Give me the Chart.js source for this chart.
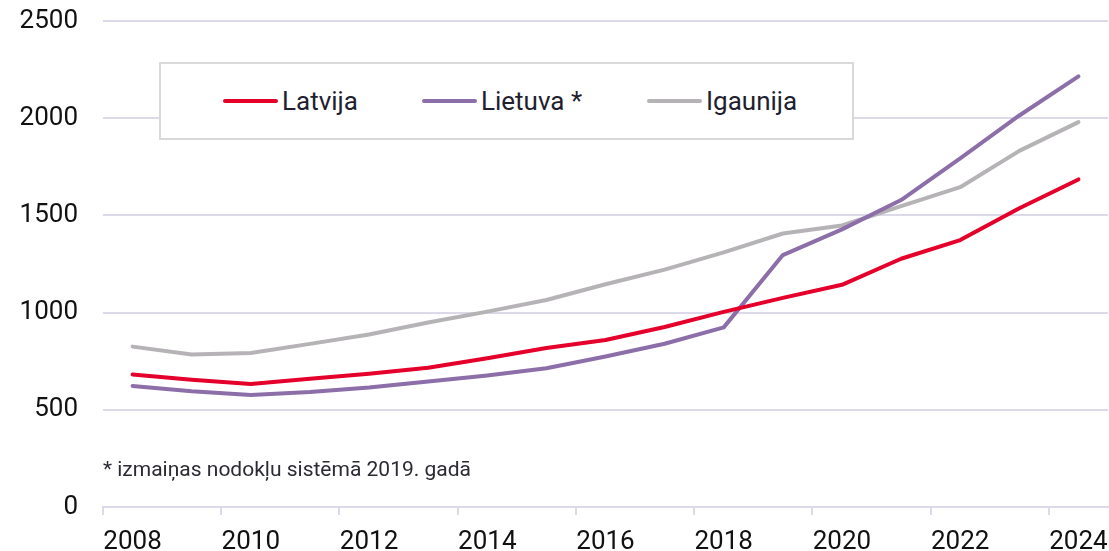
<!DOCTYPE html>
<html>
<head>
<meta charset="utf-8">
<script src="https://cdn.jsdelivr.net/npm/chart.js@4.4.1/dist/chart.umd.min.js"></script>
<style>
  body { margin: 0; background: #fff; font-family: Roboto, sans-serif; }
  #wrap { position: relative; width: 1109px; height: 551px; }
  #legend {
    position: absolute; left: 159px; top: 62px; width: 691px; height: 74px;
    border: 2px solid #d9d9d9; background: #fff;
  }
  .item { position: absolute; top: 0; height: 74px; display: flex; align-items: center;
    font-size: 26px; line-height: 26px; color: #1f1f30; white-space: nowrap; }
  .swatch { display: inline-block; width: 55px; height: 4px; border-radius: 2px; margin-right: 4px; }
  #note { position: absolute; left: 103px; top: 457px; font-size: 21px; line-height: 24px; color: #2b2b33; }
</style>
</head>
<body>
<div id="wrap">
  <canvas id="chart"></canvas>
  <div id="legend"></div>
  <div id="note">* izmaiņas nodokļu sistēmā 2019. gadā</div>
</div>
<script>
// years on the category axis
const years = ['2008', '2009', '2010', '2011', '2012', '2013', '2014', '2015', '2016',
               '2017', '2018', '2019', '2020', '2021', '2022', '2023', '2024'];

// average gross wage, EUR
const latvija = [682, 655, 633, 660, 685, 716, 765, 818, 859, 926, 1004, 1076, 1143, 1277, 1373, 1537, 1685];
const lietuva = [623, 596, 576, 592, 615, 646, 677, 714, 774, 840, 924, 1296, 1428, 1579, 1793, 2014, 2215];
const igaunija = [825, 784, 792, 839, 887, 949, 1005, 1065, 1146, 1221, 1310, 1407, 1448, 1548, 1645, 1832, 1980];

const seriesNames = ['Latvija', 'Lietuva *', 'Igaunija'];
const seriesColors = ['#e4002b', '#8c6ea8', '#b6b3b7'];

const yTicks = [0, 500, 1000, 1500, 2000, 2500];

const gridColor = '#dcd9e8';
const textColor = '#111111';

// html legend in a framed box, laid over the plot like the original
const legendLeft = [62, 261, 486]; // offsets inside the box
const legendEl = document.getElementById('legend');
seriesNames.forEach((name, i) => {
    const item = document.createElement('div');
    item.className = 'item';
    item.style.left = legendLeft[i] + 'px';
    const sw = document.createElement('span');
    sw.className = 'swatch';
    sw.style.background = seriesColors[i];
    item.appendChild(sw);
    item.appendChild(document.createTextNode(name));
    legendEl.appendChild(item);
});

const canvas = document.getElementById('chart');
canvas.width = 1109;
canvas.height = 551;

new Chart(canvas.getContext('2d'), {
    type: 'line',
    data: {
        labels: years,
        datasets: [latvija, lietuva, igaunija].map((values, i) => ({
            label: seriesNames[i],
            data: values,
            borderColor: seriesColors[i],
            backgroundColor: seriesColors[i],
            borderWidth: 4,
            pointRadius: 0,
            tension: 0,
            borderCapStyle: 'round',
            borderJoinStyle: 'round',
        }))
    },
    options: {
        responsive: false,
        animation: false,
        layout: {
            padding: { top: 21, right: 1, left: 0, bottom: 0 }
        },
        scales: {
            x: {
                type: 'category',
                offset: true,
                grid: {
                    offset: true,
                    drawOnChartArea: false,
                    drawTicks: true,
                    tickLength: 8,
                    lineWidth: 2,
                    // tick marks only at every second category boundary
                    color: ctx => (ctx.index !== undefined && ctx.index % 2 === 0) ? gridColor : 'rgba(0,0,0,0)'
                },
                border: { display: true, color: gridColor, width: 2 },
                ticks: {
                    autoSkip: false,
                    maxRotation: 0,
                    padding: 12,
                    color: textColor,
                    font: { family: 'Roboto', size: 26 },
                    callback: function (value, index) {
                        return index % 2 === 0 ? years[index] : '';
                    }
                },
                afterFit: scale => {
                    scale.height = 44;
                    scale.paddingLeft = 0;
                    scale.paddingRight = 0;
                }
            },
            y: {
                min: 0,
                max: 2500,
                afterBuildTicks: scale => { scale.ticks = yTicks.map(v => ({ value: v })); },
                grid: {
                    drawTicks: false,
                    color: gridColor,
                    lineWidth: 2
                },
                border: { display: false },
                ticks: {
                    padding: 25,
                    color: textColor,
                    font: { family: 'Roboto', size: 26 },
                    callback: value => String(value)
                },
                afterFit: scale => {
                    scale.width = 103;
                    scale.paddingTop = 0;
                    scale.paddingBottom = 0;
                }
            }
        },
        plugins: {
            legend: { display: false },
            tooltip: { enabled: false }
        }
    }
});
</script>
</body>
</html>
